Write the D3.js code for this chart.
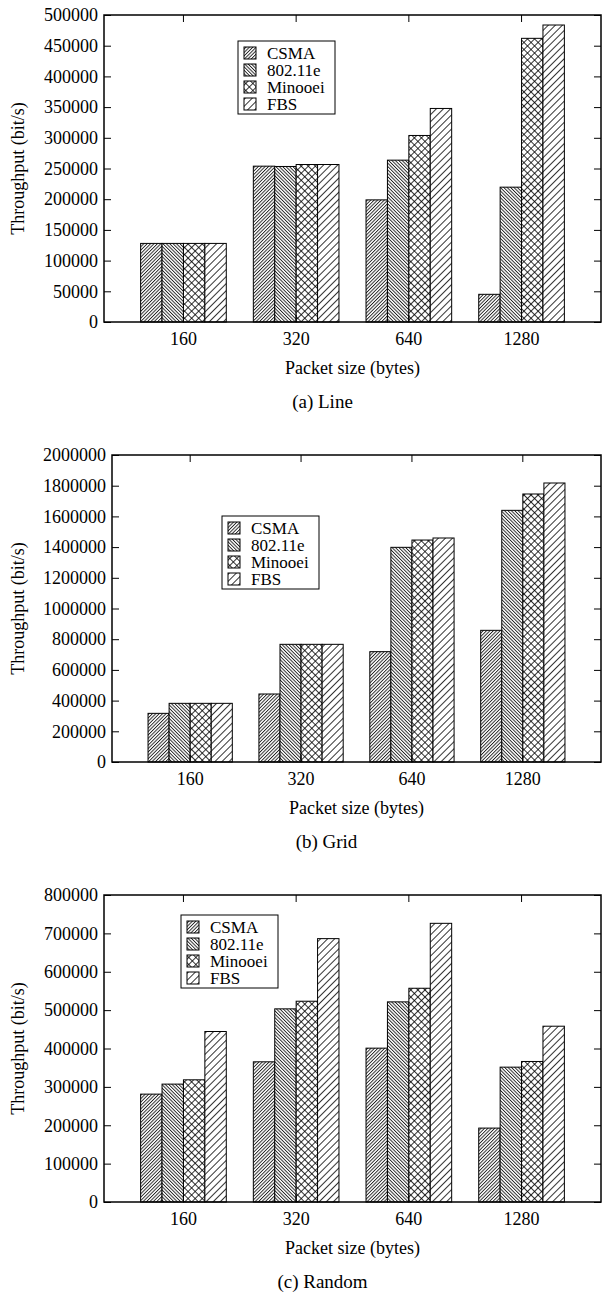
<!DOCTYPE html>
<html>
<head>
<meta charset="utf-8">
<script src="https://cdn.jsdelivr.net/npm/d3@7"></script>
<style>
  body { margin: 0; background: #fff; }
  svg { display: block; }
</style>
</head>
<body>
<div id="chart"></div>
<script>
// packet sizes and series names
var categories = ["160", "320", "640", "1280"];
var seriesNames = ["CSMA", "802.11e", "Minooei", "FBS"];

// (a) Line
var lineCsma = [128000, 253800, 198900, 45100];
var lineEdca = [128000, 253300, 263600, 219600];
var lineMinooei = [128000, 256500, 303800, 462000];
var lineFbs = [128000, 256500, 347800, 483700];
var lineTicks = [0, 50000, 100000, 150000, 200000, 250000, 300000, 350000, 400000, 450000, 500000];

// (b) Grid
var gridCsma = [317000, 443000, 718800, 857800];
var gridEdca = [382200, 766600, 1398500, 1639500];
var gridMinooei = [382200, 766600, 1446000, 1746000];
var gridFbs = [382200, 766600, 1459300, 1817600];
var gridTicks = [0, 200000, 400000, 600000, 800000, 1000000, 1200000, 1400000, 1600000, 1800000, 2000000];

// (c) Random
var randCsma = [281100, 365300, 400900, 192600];
var randEdca = [307200, 503300, 521500, 351400];
var randMinooei = [318400, 523200, 557000, 366200];
var randFbs = [444300, 686300, 726200, 458100];
var randTicks = [0, 100000, 200000, 300000, 400000, 500000, 600000, 700000, 800000];

var svgWidth = 603;
var svgHeight = 1292;
var serif = "Liberation Serif";

var svg = d3.select("#chart")
    .append("svg")
    .attr("width", svgWidth)
    .attr("height", svgHeight)
    .attr("font-family", serif);

// hatch patterns, one per series
var defs = svg.append("defs");
var hatches = [
    {id: "hCsma", angles: [45], gap: 2.4},
    {id: "hEdca", angles: [-45], gap: 2.4},
    {id: "hMinooei", angles: [45, -45], gap: 5},
    {id: "hFbs", angles: [45], gap: 5}
];
hatches.forEach(function(h) {
    h.angles.forEach(function(a, i) {
        var p = defs.append("pattern")
            .attr("id", h.id + i)
            .attr("patternUnits", "userSpaceOnUse")
            .attr("width", h.gap)
            .attr("height", h.gap)
            .attr("patternTransform", `rotate(${a})`);
        p.append("line")
            .attr("x1", 0.5).attr("y1", 0)
            .attr("x2", 0.5).attr("y2", h.gap)
            .attr("stroke", "#000")
            .attr("stroke-width", 0.8);
    });
});

function fillHatch(g, i, x, y, w, h) {
    g.append("rect").attr("x", x).attr("y", y).attr("width", w).attr("height", h).attr("fill", "#fff");
    hatches[i].angles.forEach(function(a, k) {
        g.append("rect").attr("x", x).attr("y", y).attr("width", w).attr("height", h)
            .attr("fill", `url(#${hatches[i].id}${k})`);
    });
    g.append("rect").attr("x", x).attr("y", y).attr("width", w).attr("height", h)
        .attr("fill", "none").attr("stroke", "#000").attr("stroke-width", 1);
}

function drawPanel(cfg) {
    var m = cfg.margin;
    var g = svg.append("g");

    var x0 = d3.scaleBand()
        .domain(categories)
        .range([m.left, m.right])
        .paddingInner(0.24)
        .paddingOuter(0.325);

    var x1 = d3.scaleBand()
        .domain(seriesNames)
        .range([0, x0.bandwidth()]);

    var y = d3.scaleLinear()
        .domain([0, cfg.ticks[cfg.ticks.length - 1]])
        .range([m.bottom, m.top]);

    // bars
    cfg.series.forEach(function(vals, si) {
        vals.forEach(function(v, ci) {
            var bx = x0(categories[ci]) + x1(seriesNames[si]);
            fillHatch(g, si, bx, y(v), x1.bandwidth(), y(0) - y(v));
        });
    });

    // axes with inward ticks
    var axes = [
        g.append("g")
            .attr("transform", `translate(${m.left},0)`)
            .call(d3.axisLeft(y).tickValues(cfg.ticks).tickSize(-7).tickPadding(6).tickFormat(d3.format("d"))),
        g.append("g")
            .attr("transform", `translate(${m.right},0)`)
            .call(d3.axisRight(y).tickValues(cfg.ticks).tickSize(-7).tickFormat("")),
        g.append("g")
            .attr("transform", `translate(0,${m.bottom})`)
            .call(d3.axisBottom(x0).tickSize(-7).tickPadding(10)),
        g.append("g")
            .attr("transform", `translate(0,${m.top})`)
            .call(d3.axisTop(x0).tickSize(-7).tickFormat(""))
    ];
    axes.forEach(function(a) {
        a.attr("font-family", serif).attr("font-size", 18);
    });

    g.selectAll(".domain").remove();
    g.selectAll(".tick line").attr("stroke", "#000").attr("stroke-width", 1);

    g.append("rect")
        .attr("x", m.left).attr("y", m.top)
        .attr("width", m.right - m.left).attr("height", m.bottom - m.top)
        .attr("fill", "none").attr("stroke", "#000").attr("stroke-width", 1.5);

    // legend
    var lg = g.append("g").attr("transform", `translate(${cfg.legend[0]},${cfg.legend[1]})`);
    lg.append("rect").attr("width", 97).attr("height", 73)
        .attr("fill", "#fff").attr("stroke", "#000").attr("stroke-width", 1);
    seriesNames.forEach(function(name, i) {
        fillHatch(lg, i, 6, 6 + i * 17, 12, 12);
        lg.append("text")
            .attr("x", 29).attr("y", 17.5 + i * 17)
            .attr("font-size", 17)
            .text(name);
    });

    // titles
    var cx = (m.left + m.right) / 2;
    g.append("text")
        .attr("x", cx).attr("y", m.bottom + 52)
        .attr("text-anchor", "middle")
        .attr("font-size", 18)
        .text("Packet size (bytes)");
    g.append("text")
        .attr("x", cx - 30).attr("y", m.bottom + 86)
        .attr("text-anchor", "middle")
        .attr("font-size", 19)
        .text(cfg.caption);
    g.append("text")
        .attr("transform", `translate(24, ${(m.top + m.bottom) / 2}) rotate(-90)`)
        .attr("text-anchor", "middle")
        .attr("font-size", 18)
        .text("Throughput (bit/s)");
}

drawPanel({
    margin: {top: 15, bottom: 322, left: 104, right: 601},
    series: [lineCsma, lineEdca, lineMinooei, lineFbs],
    ticks: lineTicks,
    legend: [238, 41],
    caption: "(a) Line"
});
drawPanel({
    margin: {top: 455, bottom: 762, left: 112, right: 601},
    series: [gridCsma, gridEdca, gridMinooei, gridFbs],
    ticks: gridTicks,
    legend: [222, 516],
    caption: "(b) Grid"
});
drawPanel({
    margin: {top: 895, bottom: 1202, left: 104, right: 601},
    series: [randCsma, randEdca, randMinooei, randFbs],
    ticks: randTicks,
    legend: [181, 915],
    caption: "(c) Random"
});
</script>
</body>
</html>
